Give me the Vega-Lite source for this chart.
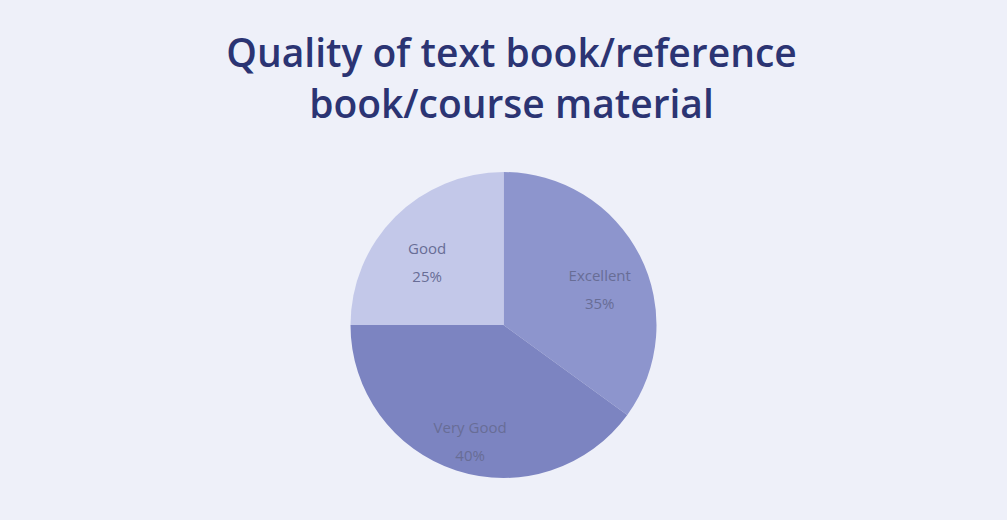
{
  "$schema": "https://vega.github.io/schema/vega-lite/v6.json",
  "width": 1007,
  "height": 520,
  "autosize": {"type": "fit", "contains": "padding"},
  "padding": {"top": 44, "left": 0, "right": 0, "bottom": 50},
  "background": "#eef0f9",
  "title": {
    "text": ["Quality of text book/reference", "book/course material"],
    "anchor": "middle",
    "font": "Open Sans",
    "fontWeight": 600,
    "fontSize": 39,
    "lineHeight": 51,
    "color": "#2b3473",
    "offset": 46,
    "dx": 8
  },
  "data": {
    "values": [
      {"idx": 1, "category": "Excellent", "value": 35, "label": "Excellent\n35%"},
      {"idx": 2, "category": "Very Good", "value": 40, "label": "Very Good\n40%"},
      {"idx": 3, "category": "Good", "value": 25, "label": "Good\n25%"}
    ]
  },
  "encoding": {
    "theta": {"field": "value", "type": "quantitative", "stack": true},
    "order": {"field": "idx", "type": "quantitative"}
  },
  "layer": [
    {
      "mark": {"type": "arc", "outerRadius": 153, "stroke": null},
      "encoding": {
        "color": {
          "field": "category",
          "type": "nominal",
          "scale": {"domain": ["Excellent", "Very Good", "Good"], "range": ["#8d95cd", "#7c84c1", "#c3c8e9"]},
          "legend": null
        }
      }
    },
    {
      "mark": {"type": "text", "radius": 108, "lineBreak": "\n", "font": "Open Sans", "fontSize": 15, "lineHeight": 28, "color": "#686d96"},
      "encoding": {"text": {"field": "label"}}
    }
  ],
  "view": {"stroke": null},
  "config": {"view": {"stroke": null}}
}
